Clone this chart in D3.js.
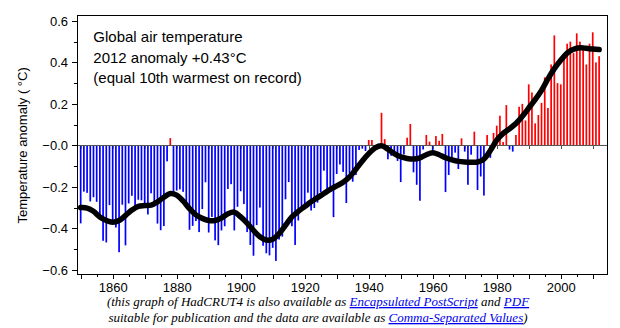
<!DOCTYPE html>
<meta charset="utf-8">
<style>
body { margin: 0; background: #fff; }
svg text { font-family: Arial, "Liberation Sans", sans-serif; fill: #000; }
.axis text { font-size: 13px; }
.axis path, .axis line { stroke: #000; shape-rendering: crispEdges; }
.zero path, .zero line { stroke: #555; }
.note { font-family: "Liberation Serif", "Times New Roman", serif !important; font-style: italic; font-size: 13px; }
.note .link { fill: #00e; text-decoration: underline; }
</style>
<svg width="620" height="328"></svg>
<script src="https://cdnjs.cloudflare.com/ajax/libs/d3/7.8.5/d3.min.js"></script>
<script>

// annual global anomalies (deg C), one per year from firstYear
var firstYear = 1850;
var anomaly = [
  -0.376, -0.223, -0.229, -0.270, -0.250, -0.272, -0.355, -0.460, -0.468, -0.288, // 1850s
  -0.360, -0.396, -0.515, -0.286, -0.482, -0.280, -0.243, -0.302, -0.262, -0.265, // 1860s
  -0.284, -0.333, -0.231, -0.289, -0.377, -0.409, -0.389, -0.077,  0.035, -0.225, // 1870s
  -0.218, -0.212, -0.224, -0.290, -0.407, -0.388, -0.365, -0.418, -0.307, -0.178, // 1880s
  -0.420, -0.345, -0.458, -0.481, -0.410, -0.390, -0.210, -0.187, -0.410, -0.296, // 1890s
  -0.221, -0.283, -0.418, -0.480, -0.532, -0.384, -0.300, -0.484, -0.520, -0.530, // 1900s
  -0.494, -0.557, -0.454, -0.440, -0.260, -0.177, -0.390, -0.480, -0.362, -0.314, // 1910s
  -0.296, -0.228, -0.314, -0.302, -0.276, -0.226, -0.122, -0.226, -0.216, -0.346, // 1920s
  -0.138, -0.092, -0.128, -0.278, -0.135, -0.175, -0.143, -0.022, -0.016, -0.027, // 1930s
   0.026,  0.026, -0.015, -0.009,  0.157,  0.030, -0.067, -0.050, -0.049, -0.075, // 1940s
  -0.177, -0.044,  0.037,  0.103, -0.130, -0.190, -0.267, -0.020,  0.050,  0.018, // 1950s
  -0.035,  0.045,  0.022,  0.055, -0.225, -0.143, -0.060, -0.035, -0.114,  0.034, // 1960s
  -0.030, -0.190, -0.045,  0.066, -0.215, -0.150, -0.242,  0.050, -0.060,  0.060, // 1970s
   0.095,  0.143,  0.016,  0.194, -0.020, -0.030,  0.050,  0.186,  0.200,  0.120, // 1980s
   0.294,  0.255,  0.106,  0.146,  0.205,  0.328,  0.180,  0.390,  0.530,  0.300, // 1990s
   0.294,  0.440,  0.490,  0.500,  0.445,  0.540,  0.500,  0.480,  0.390,  0.490, // 2000s
   0.545,  0.400,  0.430                                                          // 2010s
];

// smoothed curve, sampled every two years
var smoothYear = d3.range(1850, 2013, 2);
var smoothValue = [
  -0.300, -0.302, -0.318, -0.345, -0.362, -0.370, -0.362, -0.338, -0.312, -0.294,
  -0.290, -0.288, -0.272, -0.250, -0.232, -0.240, -0.268, -0.305, -0.335, -0.352,
  -0.362, -0.362, -0.350, -0.330, -0.322, -0.345, -0.375, -0.410, -0.440, -0.456,
  -0.452, -0.425, -0.385, -0.345, -0.318, -0.295, -0.272, -0.252, -0.232, -0.212,
  -0.195, -0.178, -0.152, -0.115, -0.075, -0.040, -0.012, -0.002, -0.018, -0.040,
  -0.055, -0.063, -0.066, -0.060, -0.045, -0.036, -0.045, -0.060, -0.070, -0.077,
  -0.080, -0.081, -0.080, -0.066, -0.025,  0.025,  0.058,  0.080,  0.105,  0.140,
   0.180,  0.220,  0.265,  0.320,  0.370,  0.410,  0.445,  0.463,  0.470,  0.468,
   0.464,  0.462
];

var yearLabels = [1860, 1880, 1900, 1920, 1940, 1960, 1980, 2000];
var anomalyTicks = [0.6, 0.4, 0.2, 0, -0.2, -0.4, -0.6];
var anomalyMinor = [0.5, 0.3, 0.1, -0.1, -0.3, -0.5];

var titleLines = [
  "Global air temperature",
  "2012 anomaly +0.43\u00b0C",
  "(equal 10th warmest on record)"
];

var svg = d3.select("svg");

var plotLeft = 77, plotRight = 607.3, plotTop = 15.7, plotBottom = 274;

var x = d3.scaleLinear().domain([1848.85, 2014.55]).range([plotLeft, plotRight]);
var y = d3.scaleLinear().domain([-0.62, 0.625]).range([plotBottom, plotTop]);

var years = anomaly.map(function(d, i) { return firstYear + i; });
var data = years.map(function(yr, i) { return {year: yr, value: anomaly[i]}; });

// bars
svg.append("g")
  .selectAll("rect")
  .data(data)
  .enter().append("rect")
    .attr("x", function(d) { return x(d.year) - 0.85; })
    .attr("width", 1.7)
    .attr("y", function(d) { return Math.min(y(d.value), y(0)); })
    .attr("height", function(d) { return Math.abs(y(d.value) - y(0)); })
    .attr("fill", function(d) { return d.value > 0 ? "#ff0000" : "#0000ff"; });

// zero line with decade ticks
var zero = svg.append("g")
    .attr("class", "axis zero")
    .attr("transform", "translate(0," + y(0) + ")")
    .call(d3.axisBottom(x)
      .tickValues(d3.range(1850, 2011, 10))
      .tickSize(4)
      .tickSizeOuter(0)
      .tickFormat(""));
zero.select(".domain").attr("d", "M" + plotLeft + ",0H" + plotRight);

// smoothed curve
var line = d3.line()
    .x(function(d, i) { return x(smoothYear[i]); })
    .y(function(d) { return y(d); })
    .curve(d3.curveCatmullRom.alpha(0.5));

svg.append("path")
    .datum(smoothValue)
    .attr("d", line)
    .attr("fill", "none")
    .attr("stroke", "#000")
    .attr("stroke-width", 5.5)
    .attr("stroke-linecap", "round")
    .attr("stroke-linejoin", "round");

// frame
svg.append("rect")
    .attr("x", plotLeft).attr("y", plotTop)
    .attr("width", plotRight - plotLeft).attr("height", plotBottom - plotTop)
    .attr("fill", "none")
    .attr("stroke", "#000")
    .attr("shape-rendering", "crispEdges");

// x axis
var xMinor = svg.append("g")
    .attr("class", "axis")
    .attr("transform", "translate(0," + plotBottom + ")")
    .call(d3.axisBottom(x)
      .tickValues(d3.range(1855, 2011, 10))
      .tickSize(3)
      .tickSizeOuter(0)
      .tickFormat(""));

var xMajor = svg.append("g")
    .attr("class", "axis")
    .attr("transform", "translate(0," + plotBottom + ")")
    .call(d3.axisBottom(x)
      .tickValues(d3.range(1850, 2011, 10))
      .tickSize(5)
      .tickSizeOuter(0)
      .tickPadding(4)
      .tickFormat(function(d) { return yearLabels.indexOf(d) >= 0 ? d : ""; }));

// y axis
var yMinor = svg.append("g")
    .attr("class", "axis")
    .attr("transform", "translate(" + plotLeft + ",0)")
    .call(d3.axisLeft(y)
      .tickValues(anomalyMinor)
      .tickSize(3)
      .tickSizeOuter(0)
      .tickFormat(""));

var yMajor = svg.append("g")
    .attr("class", "axis")
    .attr("transform", "translate(" + plotLeft + ",0)")
    .call(d3.axisLeft(y)
      .tickValues(anomalyTicks)
      .tickSize(5)
      .tickSizeOuter(0)
      .tickPadding(4)
      .tickFormat(function(d) { return (d <= 0 ? "\u2212" : "") + Math.abs(d).toFixed(1); }));

[xMinor, xMajor, yMinor, yMajor].forEach(function(g) { g.select(".domain").remove(); });

svg.append("text")
    .attr("transform", "translate(27," + y(0) + ") rotate(-90)")
    .attr("text-anchor", "middle")
    .attr("font-size", 13)
    .text("Temperature anomaly ( \u00b0C)");

// title block
svg.append("g")
  .selectAll("text")
  .data(titleLines)
  .enter().append("text")
    .attr("x", 93.3)
    .attr("y", function(d, i) { return 41.7 + i * 20.8; })
    .attr("font-size", 15)
    .text(function(d) { return d; });

// footnote with link text
var note = [
  [["(this graph of HadCRUT4 is also available as ", 0], ["Encapsulated PostScript", 1], [" and ", 0], ["PDF", 1]],
  [["suitable for publication and the data are available as ", 0], ["Comma-Separated Values", 1], [")", 0]]
];

note.forEach(function(parts, i) {
  var t = svg.append("text")
      .attr("class", "note")
      .attr("x", 318)
      .attr("y", 306 + i * 16)
      .attr("text-anchor", "middle");
  parts.forEach(function(p) {
    t.append("tspan")
      .attr("class", p[1] ? "link" : null)
      .text(p[0]);
  });
});

</script>
